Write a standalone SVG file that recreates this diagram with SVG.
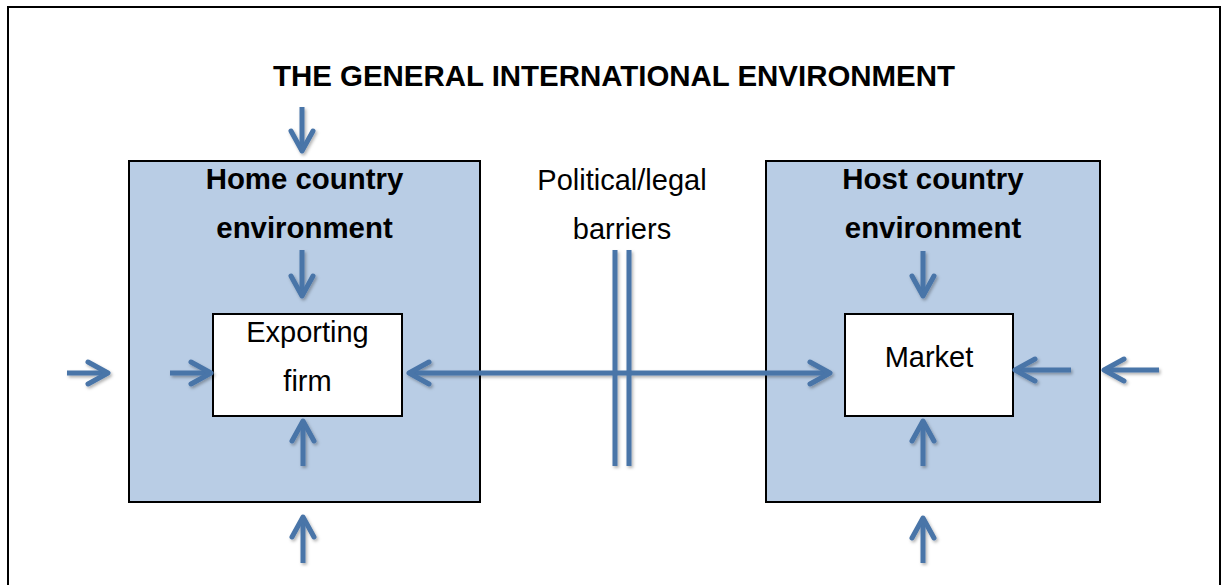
<svg xmlns="http://www.w3.org/2000/svg" width="1225" height="585" viewBox="0 0 1225 585">
  <style>
    text { font-family: "Liberation Sans", Arial, sans-serif; font-size: 29px; fill: #000; text-anchor: middle; }
    .bold { font-weight: bold; font-size: 29.4px; }
    .env { fill: #B9CDE5; stroke: #000; stroke-width: 2; }
    .inner { fill: #fff; stroke: #000; stroke-width: 2; }
    .arrow { fill: none; stroke: #4874A8; stroke-width: 5; stroke-linecap: butt; }
    .wall { stroke: #4874A8; stroke-width: 5; }
  </style>
  <defs>
    <marker id="head" markerUnits="userSpaceOnUse" viewBox="-26 -16 32 32" refX="0" refY="0" markerWidth="32" markerHeight="32" orient="auto-start-reverse" overflow="visible">
      <path d="M-20,-11 L0,0 L-20,11" fill="none" stroke="#4874A8" stroke-width="5" stroke-linecap="round" stroke-linejoin="round"/>
    </marker>
    <filter id="shadow" x="-20%" y="-20%" width="140%" height="140%">
      <feDropShadow dx="1.5" dy="2" stdDeviation="1.5" flood-color="#000" flood-opacity="0.3"/>
    </filter>
  </defs>

  <rect width="1225" height="585" fill="#fff"/>
  <!-- outer frame -->
  <rect x="8" y="7" width="1212" height="620" fill="none" stroke="#000" stroke-width="2"/>

  <g id="title">
    <text class="bold" x="614" y="86" textLength="682" lengthAdjust="spacingAndGlyphs">THE GENERAL INTERNATIONAL ENVIRONMENT</text>
  </g>

  <g id="home-country">
    <rect class="env" x="129" y="161" width="351" height="341"/>
    <text class="bold" x="304.5" y="189">Home country</text>
    <text class="bold" x="304.5" y="238">environment</text>
  </g>

  <g id="host-country">
    <rect class="env" x="766" y="161" width="334" height="341"/>
    <text class="bold" x="933" y="189">Host country</text>
    <text class="bold" x="933" y="238">environment</text>
  </g>

  <g id="exporting-firm">
    <rect class="inner" x="213" y="314" width="189" height="102"/>
    <text x="307.5" y="342">Exporting</text>
    <text x="307.5" y="391">firm</text>
  </g>

  <g id="market">
    <rect class="inner" x="845" y="314" width="168" height="102"/>
    <text x="929" y="367">Market</text>
  </g>

  <g id="barriers">
    <text x="622" y="190">Political/legal</text>
    <text x="622" y="239">barriers</text>
  </g>

  <g id="connectors" filter="url(#shadow)">
    <!-- home side -->
    <path class="arrow" d="M302,107 V151" marker-end="url(#head)"/>
    <path class="arrow" d="M302,250 V296" marker-end="url(#head)"/>
    <path class="arrow" d="M67,373 H108" marker-end="url(#head)"/>
    <path class="arrow" d="M170,373 H211" marker-end="url(#head)"/>
    <path class="arrow" d="M303,466 V421" marker-end="url(#head)"/>
    <path class="arrow" d="M303,563 V517" marker-end="url(#head)"/>
    <!-- trade link between firm and market -->
    <path class="arrow" d="M409,373 H830" marker-start="url(#head)" marker-end="url(#head)"/>
    <!-- host side -->
    <path class="arrow" d="M923,251 V296" marker-end="url(#head)"/>
    <path class="arrow" d="M1071,370 H1015" marker-end="url(#head)"/>
    <path class="arrow" d="M1159,370 H1104" marker-end="url(#head)"/>
    <path class="arrow" d="M923,466 V421" marker-end="url(#head)"/>
    <path class="arrow" d="M923,563 V518" marker-end="url(#head)"/>
    <!-- barrier walls -->
    <line class="wall" x1="615" y1="250" x2="615" y2="466"/>
    <line class="wall" x1="629" y1="250" x2="629" y2="466"/>
  </g>
</svg>
